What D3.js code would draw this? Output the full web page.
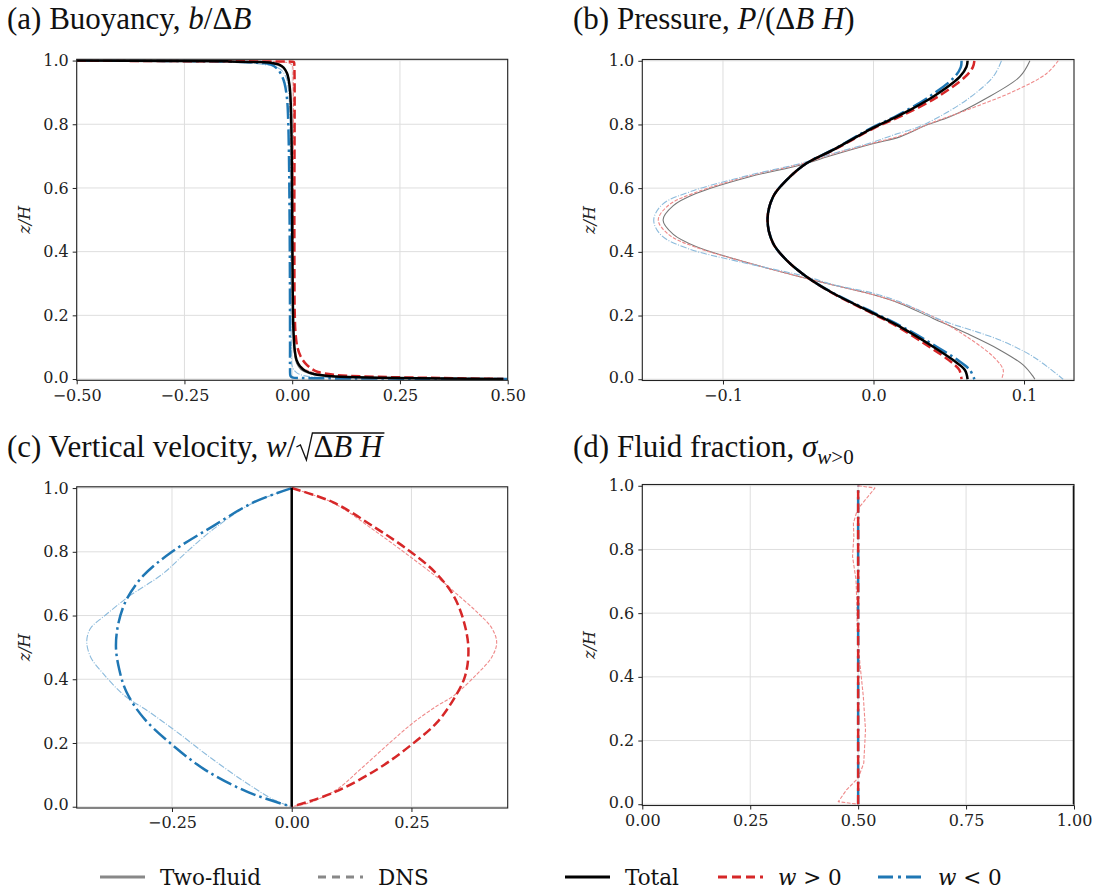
<!DOCTYPE html>
<html>
<head>
<meta charset="utf-8">
<script src="https://cdn.jsdelivr.net/npm/d3@7"></script>
<style>
  body { margin: 0; background: #fff; }
  svg { display: block; }
</style>
</head>
<body>
<svg id="fig" width="1095" height="890"></svg>
<script>
// ---------- tick values ----------
const zTicks = [0, 0.2, 0.4, 0.6, 0.8, 1.0];
const xTicksA = [-0.5, -0.25, 0, 0.25, 0.5];
const xTicksB = [-0.1, 0, 0.1];
const xTicksC = [-0.25, 0, 0.25];
const xTicksD = [0, 0.25, 0.5, 0.75, 1];

// ---------- (a) buoyancy b/ΔB : [b, z/H] ----------
const buoyTotal = [[-0.5,1.0],[-0.3,0.999],[-0.15,0.9975],[-0.08,0.9955],[-0.05,0.993],[-0.03,0.987],[-0.02,0.978],[-0.012,0.96],[-0.006,0.92],[-0.003,0.85],[-0.001,0.7],[0.0,0.5],[0.001,0.3],[0.003,0.15],[0.006,0.09],[0.01,0.06],[0.018,0.04],[0.03,0.026],[0.05,0.016],[0.1,0.008],[0.2,0.004],[0.35,0.0015],[0.49,0.0]];
const buoyUp = [[-0.5,1.0],[-0.3,0.9985],[-0.1,0.9975],[-0.02,0.997],[0.0,0.9965],[0.004,0.995],[0.005,0.98],[0.005,0.5],[0.006,0.2],[0.008,0.14],[0.012,0.1],[0.02,0.07],[0.03,0.05],[0.045,0.032],[0.06,0.022],[0.1,0.013],[0.2,0.007],[0.35,0.003],[0.49,0.0]];
const buoyDown = [[-0.5,1.0],[-0.3,0.999],[-0.15,0.997],[-0.09,0.994],[-0.05,0.988],[-0.035,0.975],[-0.025,0.955],[-0.018,0.93],[-0.012,0.88],[-0.009,0.8],[-0.006,0.5],[-0.005,0.1],[-0.005,0.03],[-0.004,0.01],[0.0,0.005],[0.03,0.003],[0.1,0.002],[0.3,0.001],[0.5,0.0]];
const buoyDnsTotal = [[-0.5,1.0],[-0.3,0.9985],[-0.15,0.997],[-0.07,0.993],[-0.035,0.986],[-0.018,0.975],[-0.01,0.955],[-0.005,0.92],[-0.002,0.8],[0.0,0.5],[0.002,0.2],[0.005,0.08],[0.01,0.05],[0.02,0.03],[0.04,0.017],[0.08,0.009],[0.2,0.004],[0.5,0.0]];
const buoyDnsUp = [[-0.5,1.0],[-0.2,0.999],[-0.05,0.997],[-0.01,0.993],[0.0,0.985],[0.002,0.95],[0.003,0.5],[0.005,0.1],[0.01,0.06],[0.025,0.035],[0.05,0.02],[0.1,0.01],[0.25,0.004],[0.5,0.0]];
const buoyDnsDown = [[-0.5,1.0],[-0.2,0.997],[-0.08,0.99],[-0.03,0.975],[-0.015,0.95],[-0.008,0.9],[-0.004,0.5],[-0.002,0.1],[0.0,0.04],[0.01,0.02],[0.03,0.01],[0.1,0.004],[0.5,0.0]];

// ---------- (b) pressure P/(ΔB H) : [P, z/H] ----------
const presTotal = [[0.0625,1.0],[0.0618,0.981],[0.0574,0.95],[0.0396,0.887],[0.0175,0.829],[0,0.79],[-0.0268,0.72],[-0.0445,0.678],[-0.0578,0.625],[-0.0667,0.573],[-0.0704,0.5],[-0.0667,0.427],[-0.0578,0.374],[-0.0445,0.322],[-0.0268,0.27],[0,0.207],[0.0175,0.165],[0.0396,0.102],[0.0529,0.06],[0.0607,0.029],[0.0625,0.0]];
const presUp = [[0.067,1.0],[0.066,0.98],[0.061,0.95],[0.042,0.885],[0.019,0.828],[0.001,0.79],[-0.0265,0.72],[-0.0445,0.678],[-0.0578,0.625],[-0.0667,0.573],[-0.0704,0.5],[-0.0667,0.427],[-0.0578,0.374],[-0.0445,0.322],[-0.0272,0.27],[-0.001,0.207],[0.016,0.165],[0.037,0.102],[0.05,0.06],[0.057,0.029],[0.0585,0.0]];
const presDown = [[0.0585,1.0],[0.058,0.98],[0.054,0.95],[0.037,0.887],[0.016,0.829],[-0.001,0.79],[-0.0272,0.72],[-0.0445,0.678],[-0.0578,0.625],[-0.0667,0.573],[-0.0704,0.5],[-0.0667,0.427],[-0.0578,0.374],[-0.0445,0.322],[-0.0265,0.27],[0.001,0.207],[0.019,0.165],[0.042,0.102],[0.056,0.06],[0.064,0.029],[0.067,0.0]];
const presDnsTotal = [[0.1039,1.0],[0.0972,0.95],[0.0729,0.877],[0.0507,0.824],[0.0352,0.798],[0.0175,0.761],[0,0.74],[-0.0268,0.704],[-0.049,0.672],[-0.0822,0.636],[-0.118,0.583],[-0.133,0.545],[-0.1398,0.5],[-0.133,0.455],[-0.118,0.417],[-0.0822,0.364],[-0.049,0.322],[-0.0268,0.296],[0,0.265],[0.0175,0.238],[0.0396,0.191],[0.0618,0.144],[0.0839,0.092],[0.0994,0.045],[0.1061,0.008],[0.1072,0.0]];
const presDnsUp = [[0.1227,1.0],[0.115,0.96],[0.095,0.908],[0.0618,0.845],[0.0374,0.803],[0.0175,0.764],[0,0.742],[-0.0268,0.707],[-0.049,0.675],[-0.0822,0.639],[-0.119,0.585],[-0.136,0.547],[-0.143,0.5],[-0.136,0.454],[-0.119,0.416],[-0.0822,0.364],[-0.049,0.322],[-0.0268,0.296],[0,0.265],[0.0175,0.24],[0.0396,0.196],[0.0618,0.134],[0.0795,0.071],[0.0862,0.029],[0.085,0.0]];
const presDnsDown = [[0.085,1.0],[0.0795,0.95],[0.0618,0.877],[0.0396,0.814],[0.0286,0.79],[0.012,0.765],[0,0.745],[-0.0268,0.709],[-0.049,0.677],[-0.0822,0.641],[-0.121,0.59],[-0.14,0.55],[-0.146,0.5],[-0.141,0.452],[-0.123,0.41],[-0.09,0.37],[-0.0445,0.322],[-0.0268,0.297],[0,0.27],[0.0175,0.243],[0.0396,0.196],[0.0507,0.176],[0.0839,0.123],[0.106,0.071],[0.126,0.0]];

// ---------- (c) vertical velocity w/sqrt(ΔB H) : [w, z/H] ----------
const velTotal = [[0,0],[0,1]];
const velUp = [[0,1.0],[0.087,0.955],[0.175,0.875],[0.243,0.806],[0.3,0.735],[0.338,0.662],[0.36,0.578],[0.369,0.494],[0.362,0.41],[0.338,0.337],[0.303,0.264],[0.247,0.191],[0.178,0.117],[0.087,0.044],[0,0.0]];
const velDown = [[0,1.0],[-0.08,0.955],[-0.165,0.88],[-0.25,0.8],[-0.31,0.725],[-0.345,0.65],[-0.362,0.575],[-0.367,0.5],[-0.36,0.43],[-0.345,0.36],[-0.31,0.28],[-0.254,0.2],[-0.18,0.115],[-0.09,0.045],[0,0.0]];
const velDnsUp = [[0,1.0],[0.087,0.953],[0.178,0.861],[0.254,0.777],[0.317,0.704],[0.345,0.667],[0.386,0.612],[0.418,0.56],[0.428,0.515],[0.418,0.47],[0.386,0.415],[0.338,0.348],[0.303,0.316],[0.254,0.264],[0.205,0.201],[0.143,0.117],[0.094,0.054],[0.038,0.013],[0,0.0]];
const velDnsDown = [[0,1.0],[-0.085,0.95],[-0.16,0.875],[-0.219,0.8],[-0.27,0.73],[-0.34,0.66],[-0.39,0.6],[-0.42,0.56],[-0.428,0.52],[-0.42,0.47],[-0.395,0.42],[-0.35,0.35],[-0.3,0.3],[-0.24,0.235],[-0.175,0.16],[-0.1,0.08],[-0.035,0.02],[0,0.0]];

// ---------- (d) fluid fraction σ_{w>0} : [σ, z/H] ----------
const fracTotal = [[1,0],[1,1]];
const fracUp = [[0.5,0],[0.5,1]];
const fracDown = [[0.5,0],[0.5,1]];
const fracDnsUp = [[0.5,1.0],[0.539,0.993],[0.504,0.935],[0.497,0.919],[0.489,0.883],[0.49,0.841],[0.487,0.778],[0.495,0.705],[0.497,0.631],[0.498,0.548],[0.504,0.443],[0.512,0.338],[0.517,0.233],[0.513,0.129],[0.5,0.082],[0.473,0.045],[0.454,0.008],[0.5,0.0]];

// ---------- styles ----------
const RED = "#d62728", BLUE = "#1f77b4";
const style = {
  total:    {stroke: "#000", width: 2.5, dash: null},
  up:       {stroke: RED,  width: 2.5, dash: "9.25,4"},
  down:     {stroke: BLUE, width: 2.5, dash: "16,4,2.5,4"},
  dnsTotal: {stroke: "#777", width: 1.1, dash: null},
  dnsUp:    {stroke: "#ef8a8a", width: 1.1, dash: "3.7,1.6"},
  dnsDown:  {stroke: "#8dbbdc", width: 1.1, dash: "6.4,1.6,1,1.6"}
};

const panels = [
  {key: "a", left: 76.7, right: 507.7, top: 59.3, bottom: 380.3, xDomain: [-0.5, 0.5], xTicks: xTicksA, fmt: ".2f",
   series: [[buoyDnsTotal,"dnsTotal"],[buoyDnsUp,"dnsUp"],[buoyDnsDown,"dnsDown"],[buoyDown,"down"],[buoyUp,"up"],[buoyTotal,"total"]]},
  {key: "b", left: 642.3, right: 1074, top: 59.5, bottom: 380.5, xDomain: [-0.1536, 0.1332], xTicks: xTicksB, fmt: ".1f",
   series: [[presDnsTotal,"dnsTotal"],[presDnsUp,"dnsUp"],[presDnsDown,"dnsDown"],[presUp,"up"],[presDown,"down"],[presTotal,"total"]]},
  {key: "c", left: 76.7, right: 507.7, top: 486.8, bottom: 808, xDomain: [-0.449, 0.451], xTicks: xTicksC, fmt: ".2f",
   series: [[velDnsUp,"dnsUp"],[velDnsDown,"dnsDown"],[velDown,"down"],[velUp,"up"],[velTotal,"total"]]},
  {key: "d", left: 642.3, right: 1074, top: 484.5, bottom: 805.5, xDomain: [0, 1], xTicks: xTicksD, fmt: ".2f", linearDns: true,
   series: [[fracDnsUp,"dnsUp"],[fracDown,"down"],[fracUp,"up"],[fracTotal,"total"]]}
];

const svg = d3.select("#fig");
const AXIS_FONT = "DejaVu Serif";
const TITLE_FONT = "Liberation Serif";

panels.forEach(p => {
  const x = d3.scaleLinear().domain(p.xDomain).range([p.left, p.right]);
  const y = d3.scaleLinear().domain([-0.004, 1.004]).range([p.bottom, p.top]);
  const g = svg.append("g").attr("class", "panel-" + p.key);

  g.append("clipPath").attr("id", "clip-" + p.key)
    .append("rect").attr("x", p.left).attr("y", p.top)
    .attr("width", p.right - p.left).attr("height", p.bottom - p.top);

  // grid
  const grid = g.append("g");
  grid.selectAll("line.gx").data(p.xTicks).join("line")
    .attr("x1", d => x(d)).attr("x2", d => x(d))
    .attr("y1", p.top).attr("y2", p.bottom)
    .attr("stroke", "#dedede").attr("stroke-width", 1);
  grid.selectAll("line.gy").data(zTicks).join("line")
    .attr("y1", d => y(d)).attr("y2", d => y(d))
    .attr("x1", p.left).attr("x2", p.right)
    .attr("stroke", "#dedede").attr("stroke-width", 1);

  // curves
  const plot = g.append("g").attr("clip-path", `url(#clip-${p.key})`);
  p.series.forEach(([data, k]) => {
    const s = style[k];
    const smooth = !(p.linearDns && k.startsWith("dns"));
    const line = d3.line().x(d => x(d[0])).y(d => y(d[1]))
      .curve(smooth ? d3.curveCatmullRom.alpha(0.5) : d3.curveLinear);
    plot.append("path").datum(data)
      .attr("d", line)
      .attr("fill", "none")
      .attr("stroke", s.stroke)
      .attr("stroke-width", s.width)
      .attr("stroke-dasharray", s.dash)
      .attr("stroke-linejoin", "round");
  });

  // frame
  g.append("rect").attr("x", p.left).attr("y", p.top)
    .attr("width", p.right - p.left).attr("height", p.bottom - p.top)
    .attr("fill", "none").attr("stroke", "#222").attr("stroke-width", 1.1);

  // axes
  const ax = g.append("g").attr("transform", `translate(0,${p.bottom})`)
    .call(d3.axisBottom(x).tickValues(p.xTicks).tickFormat(d3.format(p.fmt)).tickSize(4).tickPadding(5));
  const ay = g.append("g").attr("transform", `translate(${p.left},0)`)
    .call(d3.axisLeft(y).tickValues(zTicks).tickFormat(d3.format(".1f")).tickSize(4).tickPadding(4));
  [ax, ay].forEach(a => {
    a.select(".domain").remove();
    a.selectAll(".tick line").attr("stroke", "#222");
    a.selectAll(".tick text").style("font-family", AXIS_FONT).attr("font-size", 16).attr("fill", "#222");
  });
  // keep the lowest y label clear of the first x label
  ay.selectAll(".tick text").filter(d => d === 0).attr("dy", "0.2em");

  // y label
  g.append("text")
    .attr("transform", `translate(${p.left - 47},${(p.top + p.bottom) / 2}) rotate(-90)`)
    .attr("text-anchor", "middle")
    .style("font-family", AXIS_FONT).attr("font-style", "italic").attr("font-size", 16)
    .attr("fill", "#222")
    .text("z/H");
});

// ---------- titles ----------
const TITLE_SIZE = 31;
function title(x, y, parts) {
  const t = svg.append("text").attr("x", x).attr("y", y)
    .style("font-family", TITLE_FONT).attr("font-size", TITLE_SIZE).attr("fill", "#111");
  parts.forEach(([txt, it]) => {
    t.append("tspan").attr("font-style", it ? "italic" : "normal").text(txt);
  });
  return t;
}
title(7, 29, [["(a) Buoyancy, ", 0], ["b", 1], ["/Δ", 0], ["B", 1]]);
title(573, 29, [["(b) Pressure, ", 0], ["P", 1], ["/(Δ", 0], ["B", 1], [" ", 0], ["H", 1], [")", 0]]);
const tc = title(7, 457, [["(c) Vertical velocity, ", 0], ["w", 1], ["/", 0]]);
{
  // radical sign with an overbar spanning ΔB H
  const x0 = 7 + tc.node().getComputedTextLength() + 1;
  const base = 457;
  const rad = svg.append("text").attr("x", x0 + 17).attr("y", base)
    .style("font-family", TITLE_FONT).attr("font-size", TITLE_SIZE).attr("fill", "#111");
  [["Δ", 0], ["B", 1], [" ", 0], ["H", 1]].forEach(([txt, it]) =>
    rad.append("tspan").attr("font-style", it ? "italic" : "normal").text(txt));
  const x1 = x0 + 17 + rad.node().getComputedTextLength() + 2;
  svg.append("path")
    .attr("d", `M${x0},${base - 10} L${x0 + 4},${base - 12} L${x0 + 10},${base + 3} L${x0 + 16},${base - 24} L${x1},${base - 24}`)
    .attr("fill", "none").attr("stroke", "#111").attr("stroke-width", 1.3);
}
{
  const td = title(573, 457, [["(d) Fluid fraction, ", 0], ["σ", 1]]);
  td.append("tspan").attr("font-style", "italic").attr("font-size", 21).attr("dy", 7).text("w");
  td.append("tspan").attr("font-size", 21).text(">0");
}

// ---------- legend ----------
const legendItems = [
  {x: 100, label: [["Two-fluid", 0]], s: {stroke: "#888", width: 3, dash: null}},
  {x: 318, label: [["DNS", 0]], s: {stroke: "#888", width: 3, dash: "8,6"}},
  {x: 565, label: [["Total", 0]], s: {stroke: "#000", width: 3, dash: null}},
  {x: 718, label: [["w", 1], [" > 0", 0]], s: {stroke: RED, width: 3, dash: "9,5"}},
  {x: 878, label: [["w", 1], [" < 0", 0]], s: {stroke: BLUE, width: 3, dash: "15,5,3,5"}}
];
const lg = svg.append("g");
legendItems.forEach(it => {
  lg.append("line").attr("x1", it.x).attr("x2", it.x + 45).attr("y1", 877).attr("y2", 877)
    .attr("stroke", it.s.stroke).attr("stroke-width", it.s.width).attr("stroke-dasharray", it.s.dash);
  const t = lg.append("text").attr("x", it.x + 60).attr("y", 885)
    .style("font-family", AXIS_FONT).attr("font-size", 21.5).attr("fill", "#111");
  it.label.forEach(([txt, itl]) => t.append("tspan").attr("font-style", itl ? "italic" : "normal").text(txt));
});
</script>
</body>
</html>
